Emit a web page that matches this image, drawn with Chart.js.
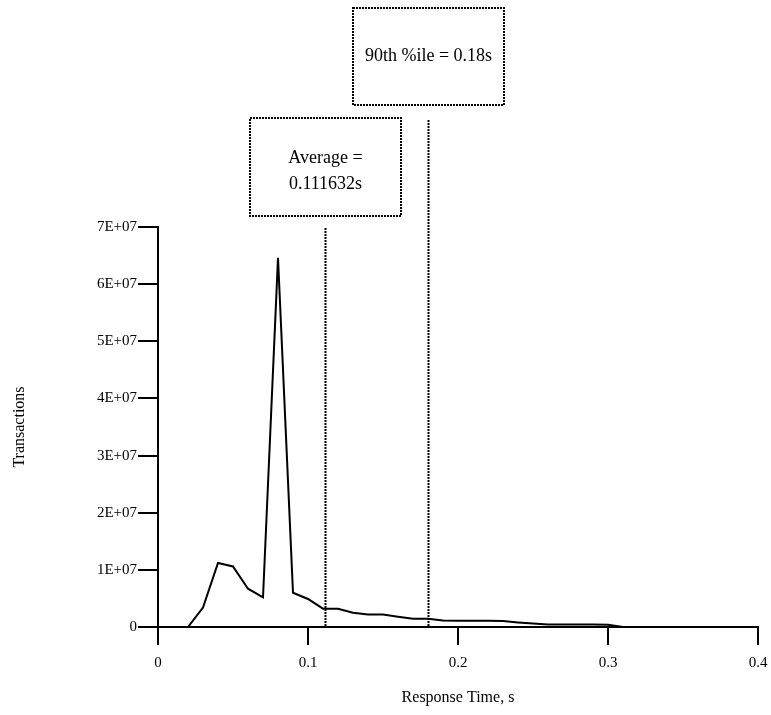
<!DOCTYPE html>
<html>
<head>
<meta charset="utf-8">
<script src="https://cdn.jsdelivr.net/npm/chart.js@4/dist/chart.umd.min.js"></script>
<style>
html,body{margin:0;padding:0;background:#fff;}
#wrap{width:771px;height:715px;position:relative;}
</style>
</head>
<body>
<div id="wrap"><canvas id="c" width="771" height="715"></canvas></div>
<script>
const responseTimes = [0.02,0.03,0.04,0.05,0.06,0.07,0.08,0.09,0.10,0.11,0.12,0.13,0.14,0.15,0.16,0.17,0.18,0.19,0.20,0.21,0.22,0.23,0.24,0.25,0.26,0.27,0.28,0.29,0.30,0.31,0.32,0.33,0.34,0.35,0.36,0.37,0.38,0.39,0.40];
const transactions = [0,3.4e6,11.2e6,10.6e6,6.7e6,5.2e6,64.6e6,6.0e6,4.9e6,3.2e6,3.2e6,2.5e6,2.2e6,2.2e6,1.8e6,1.45e6,1.45e6,1.15e6,1.1e6,1.1e6,1.1e6,1.05e6,0.8e6,0.6e6,0.45e6,0.45e6,0.45e6,0.45e6,0.4e6,0,0,0,0,0,0,0,0,0,0];
const averageTime = 0.111632;
const percentile90 = 0.18;
const averageLabel = ['Average =', '0.111632s'];
const percentileLabel = ['90th %ile = 0.18s'];
const xTicks = [0,0.1,0.2,0.3,0.4];
const yTickLabels = ['0','1E+07','2E+07','3E+07','4E+07','5E+07','6E+07','7E+07'];

const FONT = "'Liberation Serif', 'Times New Roman', serif";

const markerPlugin = {
  id: 'markers',
  afterDatasetsDraw(chart) {
    const {ctx, chartArea, scales} = chart;
    const bottom = chartArea.bottom;
    const markers = [
      {value: averageTime, lines: averageLabel, lineTop: chartArea.top + 1, boxTop: chartArea.top - 109, boxBottom: chartArea.top - 11, textShift: 4},
      {value: percentile90, lines: percentileLabel, lineTop: chartArea.top - 107, boxTop: chartArea.top - 219, boxBottom: chartArea.top - 122, textShift: 0}
    ];
    ctx.save();
    ctx.strokeStyle = '#000';
    ctx.lineWidth = 2;
    ctx.setLineDash([2, 1]);
    markers.forEach(m => {
      const px = Math.round(scales.x.getPixelForValue(m.value)) + 0.5;
      ctx.beginPath();
      ctx.moveTo(px, m.lineTop);
      ctx.lineTo(px, bottom);
      ctx.stroke();
      const w = 151;
      const left = Math.round(px - w / 2);
      ctx.strokeRect(left, m.boxTop, w, m.boxBottom - m.boxTop);
      ctx.fillStyle = '#000';
      ctx.font = '18px ' + FONT;
      ctx.textAlign = 'center';
      ctx.textBaseline = 'middle';
      const cy = (m.boxTop + m.boxBottom) / 2 + m.textShift;
      const lh = 26;
      m.lines.forEach((t, i) => {
        ctx.fillText(t, px, cy + (i - (m.lines.length - 1) / 2) * lh);
      });
    });
    ctx.restore();
  }
};

new Chart(document.getElementById('c'), {
  type: 'line',
  data: {
    datasets: [{
      data: responseTimes.map((x, i) => ({x: x, y: transactions[i]})),
      borderColor: '#000',
      borderWidth: 2,
      pointRadius: 0,
      tension: 0,
      fill: false
    }]
  },
  options: {
    responsive: false,
    animation: false,
    plugins: {legend: {display: false}, tooltip: {enabled: false}, title: {display: false}},
    layout: {padding: {top: 227, right: 13, bottom: 0, left: 0}},
    scales: {
      x: {
        type: 'linear',
        min: 0, max: 0.4,
        afterBuildTicks: s => { s.ticks = xTicks.map(v => ({value: v})); },
        afterFit: s => { s.height = 88; s.paddingLeft = 0; s.paddingRight = 0; },
        ticks: {
          color: '#000',
          font: {family: FONT, size: 15},
          padding: 9,
          maxRotation: 0,
          callback: v => String(v)
        },
        grid: {display: true, drawOnChartArea: false, drawTicks: true, tickLength: 18, color: '#000', lineWidth: 2},
        border: {display: true, color: '#000', width: 2},
        title: {display: true, text: 'Response Time, s', color: '#000', font: {family: FONT, size: 16}, padding: {top: 4, bottom: 8}}
      },
      y: {
        min: 0, max: 7e7,
        ticks: {
          stepSize: 1e7,
          color: '#000',
          font: {family: FONT, size: 15},
          padding: 1,
          callback: v => yTickLabels[Math.round(v / 1e7)]
        },
        afterFit: s => { s.width = 158; s.paddingTop = 0; s.paddingBottom = 0; },
        grid: {display: true, drawOnChartArea: false, drawTicks: true, tickLength: 20, color: '#000', lineWidth: 2},
        border: {display: true, color: '#000', width: 2},
        title: {display: true, text: 'Transactions', color: '#000', font: {family: FONT, size: 16}, padding: {top: 10, bottom: 4}}
      }
    }
  },
  plugins: [markerPlugin]
});
</script>
</body>
</html>
